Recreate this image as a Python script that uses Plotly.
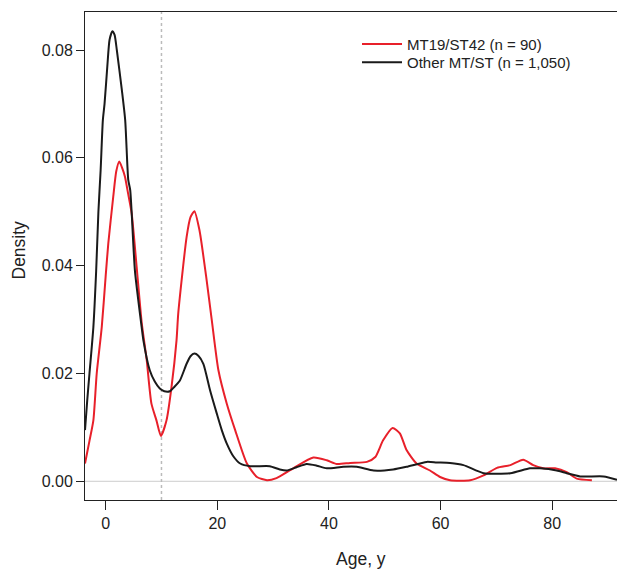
import plotly.graph_objects as go

# Density curves
age_red = [-3.7, -2.9, -2.2, -1.6, -0.7, 0.0, 0.47, 1.36, 1.9, 2.44, 3.0, 3.46, 4.0, 4.66, 5.55,
           6.45, 7.35, 8.2, 9.1, 9.9, 10.9, 11.8, 12.7, 13.0, 14.5, 15.2, 15.9, 16.8, 18.0, 19.0,
           20.2, 21.7, 23.2, 25.3, 27.1, 28.9, 30.6, 33.6, 37.2, 39.6, 41.4, 43.8, 46.8, 48.3,
           49.7, 51.4, 52.7, 53.9, 55.7, 58.1, 59.9, 61.7, 65.3, 67.7, 70.1, 72.5, 74.8, 76.6,
           78.4, 80.5, 82.6, 84.4, 87.1]
dens_red = [0.0033, 0.0075, 0.0113, 0.020, 0.0286, 0.038, 0.0441, 0.0528, 0.0575, 0.0593, 0.0580,
            0.0565, 0.0535, 0.0497, 0.0398, 0.0295, 0.0225, 0.0144, 0.0113, 0.0084, 0.0113, 0.0175,
            0.0262, 0.0311, 0.0453, 0.0490, 0.0501, 0.0466, 0.0380, 0.0300, 0.0206, 0.0144, 0.0095,
            0.0033, 0.0008, 0.0002, 0.0006, 0.0024, 0.0044, 0.0039, 0.0032, 0.0034, 0.0036, 0.0045,
            0.0076, 0.0099, 0.0089, 0.0058, 0.0033, 0.0020, 0.0008, 0.0002, 0.0002, 0.0011, 0.0025,
            0.0030, 0.0040, 0.0030, 0.0024, 0.0024, 0.0017, 0.0005, 0.0002]

age_black = [-3.7, -3.3, -2.9, -2.2, -1.7, -1.3, -0.9, -0.5, -0.2, 0.3, 0.7, 1.2, 1.6, 2.0, 2.9,
             3.5, 4.05, 4.4, 5.25, 6.45, 6.75, 7.9, 8.8, 9.7, 10.5, 11.5, 12.3, 13.3, 14.5, 15.2,
             15.9, 16.6, 17.5, 18.7, 19.9, 20.8, 21.7, 22.9, 24.1, 25.9, 29.4, 31.2, 32.4, 34.2,
             36.0, 37.8, 39.6, 42.6, 45.0, 48.0, 51.5, 53.9, 57.5, 59.3, 61.7, 64.1, 67.7, 72.5,
             76.0, 77.8, 80.8, 82.6, 85.0, 89.2, 91.6]
dens_black = [0.0095, 0.015, 0.020, 0.0286, 0.039, 0.050, 0.0577, 0.067, 0.070, 0.077, 0.0819,
              0.0835, 0.0828, 0.0800, 0.0726, 0.0670, 0.0559, 0.0540, 0.0390, 0.0286, 0.0262,
              0.0206, 0.0185, 0.0172, 0.0167, 0.0167, 0.0175, 0.0187, 0.0218, 0.0232, 0.0237,
              0.0233, 0.0218, 0.0169, 0.0126, 0.0095, 0.0070, 0.0046, 0.0033, 0.0028, 0.0028,
              0.0022, 0.0020, 0.0026, 0.0032, 0.0029, 0.0024, 0.0027, 0.0027, 0.0020, 0.0022,
              0.0027, 0.0036, 0.0035, 0.0034, 0.0030, 0.0015, 0.0015, 0.0024, 0.0024, 0.0020,
              0.0015, 0.0009, 0.0009, 0.0003]

name_red = "MT19/ST42 (n = 90)"
name_black = "Other MT/ST (n = 1,050)"
x_ticks = [0, 20, 40, 60, 80]
y_ticks = [0.00, 0.02, 0.04, 0.06, 0.08]
cutoff_age = 10

FONT = "Liberation Sans, Arial, sans-serif"
TXT = "#222222"

fig = go.Figure()
fig.add_trace(go.Scatter(x=age_red, y=dens_red, mode="lines", name=name_red, legend="legend",
                         line=dict(color="#e8202a", width=2, shape="spline", smoothing=0.6)))
fig.add_trace(go.Scatter(x=age_black, y=dens_black, mode="lines", name=name_black, legend="legend2",
                         line=dict(color="#1a1a1a", width=2, shape="spline", smoothing=0.6)))

# reference lines
fig.add_hline(y=0, line=dict(color="#cccccc", width=1), layer="below")
fig.add_vline(x=cutoff_age, line=dict(color="#bbbbbb", width=1.5, dash="dot"), layer="below")

# plot area in pixels: x 85..617, y 12..500
def px_x(v):
    return (v - 85) / 532

def px_y(v):
    return (500 - v) / 488

leg_common = dict(xanchor="left", yanchor="top", bgcolor="rgba(0,0,0,0)",
                  font=dict(size=15, color=TXT), itemwidth=40)

fig.update_layout(
    width=618, height=569,
    margin=dict(l=85, r=1, t=12, b=69),
    paper_bgcolor="white", plot_bgcolor="white",
    font=dict(family=FONT, size=16, color=TXT),
    showlegend=True,
    legend=dict(x=px_x(357), y=px_y(27.7), **leg_common),
    legend2=dict(x=px_x(357), y=px_y(46), **leg_common),
    xaxis=dict(range=[-3.7, 91.6], tickvals=x_ticks, ticktext=[str(v) for v in x_ticks],
               showgrid=False, zeroline=False, showline=True, linecolor="#222222",
               linewidth=1, mirror=True, ticks="outside", ticklen=9, tickcolor="#222222",
               tickfont=dict(size=16, color=TXT)),
    yaxis=dict(range=[-0.00347, 0.08705], tickvals=y_ticks,
               ticktext=[f"{v:.2f}" for v in y_ticks],
               showgrid=False, zeroline=False, showline=True, linecolor="#222222",
               linewidth=1, mirror=False, ticks="outside", ticklen=8, tickcolor="#222222",
               tickfont=dict(size=16, color=TXT)),
    annotations=[
        dict(text="Age, y", xref="paper", yref="paper", x=px_x(361),
             y=px_y(559), xanchor="center", yanchor="middle", showarrow=False,
             font=dict(size=17.5, color=TXT)),
        dict(text="Density", xref="paper", yref="paper", x=px_x(18.5),
             y=px_y(250), xanchor="center", yanchor="middle", showarrow=False,
             textangle=-90, font=dict(size=17.5, color=TXT)),
    ],
)

fig.write_html(
    "out.html",
    config={"displayModeBar": False},
    post_script="document.body.style.margin='0';document.body.style.overflow='hidden';",
)
